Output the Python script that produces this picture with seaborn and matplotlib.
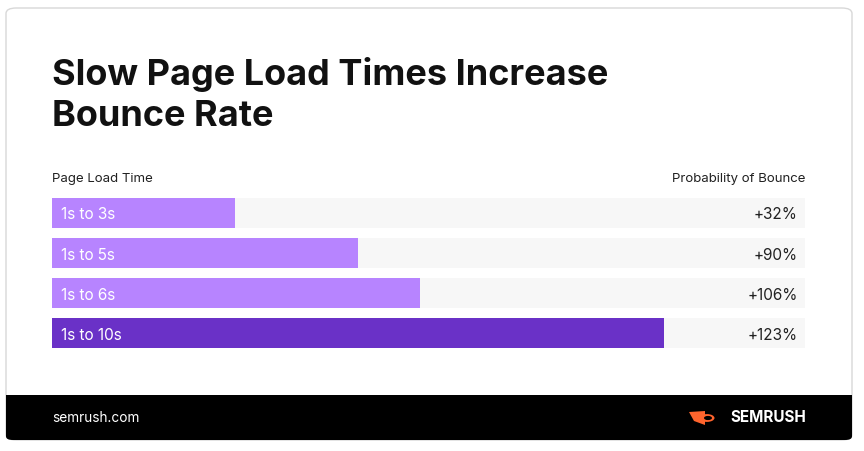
import matplotlib
matplotlib.use("Agg")
import matplotlib.pyplot as plt
from matplotlib.patches import FancyBboxPatch, Circle, Polygon
import pandas as pd
import seaborn as sns

# ---------------- data ----------------
load_times = ["1s to 3s", "1s to 5s", "1s to 6s", "1s to 10s"]
bounce_labels = ["+32%", "+90%", "+106%", "+123%"]
bar_share = [24.3, 40.6, 48.9, 81.3]   # filled share of track
bar_colors = ["#B784FF", "#B784FF", "#B784FF", "#6A31C7"]

df = pd.DataFrame({"time": load_times, "share": bar_share, "track": [100] * 4})

W, H = 864, 451
fig = plt.figure(figsize=(W / 100, H / 100), dpi=100)
fig.patch.set_facecolor("white")

# card + footer
card = FancyBboxPatch((6 / W, 11 / H), 846 / W, 432 / H, boxstyle="round,pad=0,rounding_size=0.012",
                      transform=fig.transFigure, facecolor="white", edgecolor="#D8D8D8", lw=1, zorder=-2)
fig.patches.append(card)
footer = FancyBboxPatch((6 / W, 11 / H), 846 / W, 45 / H, boxstyle="round,pad=0,rounding_size=0.008",
                        transform=fig.transFigure, facecolor="black", edgecolor="none", zorder=-1)
fig.patches.append(footer)
fig.patches.append(plt.Rectangle((6 / W, 35 / H), 846 / W, 21 / H, transform=fig.transFigure,
                                 facecolor="black", edgecolor="none", zorder=-1))

fig.text(52 / W, 1 - 74 / H, "Slow Page Load Times Increase", fontsize=26, fontweight="bold",
         family="Inter", va="center", color="#111111")
fig.text(52 / W, 1 - 117 / H, "Bounce Rate", fontsize=26, fontweight="bold",
         family="Inter", va="center", color="#111111")
fig.text(52 / W, 1 - 179 / H, "Page Load Time", fontsize=9.5, family="Inter", va="center", color="#222222")
fig.text(805 / W, 1 - 179 / H, "Probability of Bounce", fontsize=9.5, family="Inter", va="center",
         ha="right", color="#222222")

# ---------------- bars ----------------
ax = fig.add_axes([52 / W, 1 - 348 / H, 753 / W, 150 / H])
ax.set_zorder(5)
sns.barplot(data=df, x="track", y="time", color="#F7F7F7", width=0.75, ax=ax, saturation=1)
sns.barplot(data=df, x="share", y="time", hue="time", palette=bar_colors, width=0.75, ax=ax,
            saturation=1, legend=False)
ax.set_xlim(0, 100)
ax.set_ylim(3.375, -0.375)
ax.axis("off")
for i, (lab, val) in enumerate(zip(load_times, bounce_labels)):
    ax.text(1.2, i + 0.05, lab, color="white", fontsize=11, family="Inter", va="center")
    ax.text(99, i + 0.05, val, color="#222222", fontsize=11, family="Inter", va="center", ha="right")

# ---------------- footer ----------------
fig.text(52 / W, 1 - 418 / H, "semrush.com", fontsize=9.8, family="Inter", va="center", color="white")
fig.text(806 / W, 1 - 418 / H, "SEMRUSH", fontsize=11, fontweight="bold", family="Inter",
         va="center", ha="right", color="white")
lx, ly = 707 / W, 1 - 418 / H
fig.patches.append(Polygon([(lx - 18 / W, ly + 6 / H), (lx - 2 / W, ly + 7 / H), (lx - 2 / W, ly - 7 / H),
                            (lx - 13 / W, ly - 3 / H)], closed=True, transform=fig.transFigure,
                           facecolor="#FF642D", edgecolor="none"))
fig.patches.append(Circle((lx, ly), 7.5 / W, transform=fig.transFigure, facecolor="#FF642D",
                          edgecolor="none"))
fig.patches.append(Circle((lx + 1 / W, ly), 4 / W, transform=fig.transFigure, facecolor="black",
                          edgecolor="none"))

fig.savefig("out.png", dpi=100)
